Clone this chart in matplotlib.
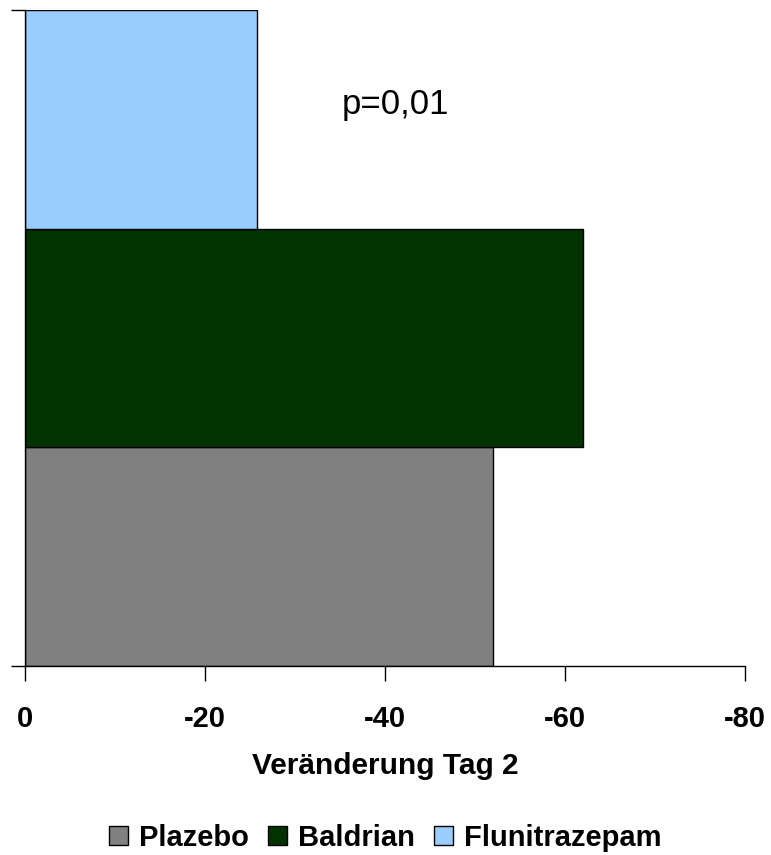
import numpy as np
import matplotlib
matplotlib.use("Agg")
import matplotlib.pyplot as plt
from matplotlib.patches import Patch

plt.rcParams["font.family"] = ["Liberation Sans", "DejaVu Sans"]
plt.rcParams["axes.unicode_minus"] = False

# data
series = ["Plazebo", "Baldrian", "Flunitrazepam"]
values = [-52.0, -62.0, -25.8]
colors = ["#808080", "#003300", "#99CCFF"]
x_ticks = [0, -20, -40, -60, -80]
x_label = "Veränderung Tag 2"
p_text = "p=0,01"

fig = plt.figure(figsize=(7.71, 8.55), dpi=100)
ax = fig.add_axes([25 / 771, 1 - 666 / 855, 720 / 771, 656 / 855])

# one category, three series stacked top-to-bottom without gap
offsets = np.arange(len(series)) - 1
for off, val, col, name in zip(offsets, values, colors, series):
    ax.barh(off, val, height=1.0, color=col, edgecolor="black", linewidth=1, label=name)

ax.set_xlim(0, -80)
ax.set_ylim(-1.5, 1.5)
ax.set_xticks(x_ticks)
ax.set_xticklabels([str(t) for t in x_ticks], fontsize=21, fontweight="bold")
ax.set_yticks([-1.5, 1.5])
ax.set_yticklabels([])
ax.tick_params(axis="x", direction="out", length=11, width=1, pad=17, colors="black")
ax.tick_params(axis="y", direction="out", length=10, width=1)

for side in ["top", "right"]:
    ax.spines[side].set_visible(False)
ax.spines["left"].set_linewidth(1)
ax.spines["bottom"].set_linewidth(1)

ax.set_xlabel(x_label, fontsize=21.5, fontweight="bold", labelpad=14)

ax.text(-35.2, 1.07, p_text, fontsize=25, ha="left", va="center")

handles = [Patch(facecolor=c, edgecolor="black", linewidth=1) for c in colors]
fig.legend(handles, series, loc="center", bbox_to_anchor=(0.5, 1 - 838 / 855),
           ncol=3, frameon=False, handlelength=0.65, handleheight=0.65,
           handletextpad=0.38, columnspacing=0.65, borderpad=0,
           prop={"size": 21, "weight": "bold"})

fig.savefig("out.png", dpi=100)
